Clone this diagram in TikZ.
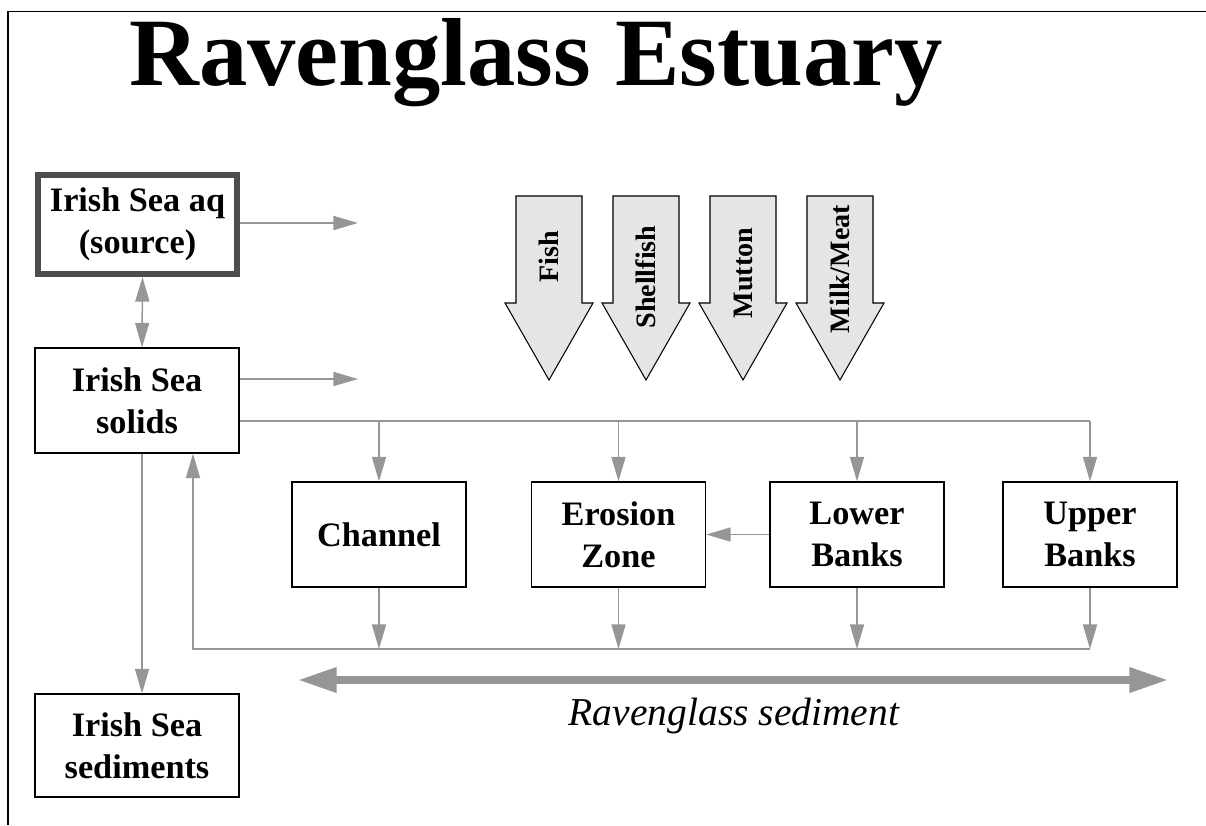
\documentclass[tikz,border=0pt]{standalone}
\usepackage{fontspec}
\setmainfont{Liberation Serif}
\usetikzlibrary{calc,arrows.meta}
\definecolor{flowGray}{RGB}{150,150,150}
\definecolor{foodFill}{RGB}{229,229,229}
\definecolor{sourceEdge}{RGB}{77,77,77}
\tikzset{
  compBox/.style={draw,line width=0.7pt,fill=white,align=center,inner sep=2pt,
    font=\bfseries\fontsize{19.5}{24}\selectfont,minimum width=3.48cm,minimum height=2.1cm},
  seaBox/.style={compBox,minimum width=4.08cm},
  flowLine/.style={draw=flowGray,line width=0.85pt},
  flowArrow/.style={flowLine,-{Triangle[length=14pt,width=8pt]}},
  flowBoth/.style={flowLine,{Triangle[length=14pt,width=8pt]}-{Triangle[length=14pt,width=8pt]}},
  sedArrow/.style={draw=flowGray,line width=4pt,{Triangle[length=22pt,width=13.6pt]}-{Triangle[length=22pt,width=13.6pt]}}
}
\begin{document}
\begin{tikzpicture}[x=0.02cm,y=-0.02cm]
\useasboundingbox (0,0) rectangle (1206,825);
\draw[line width=0.8pt] (8,825) -- (8,11.5) -- (1206,11.5);
\node[anchor=base,font=\bfseries\fontsize{55}{60}\selectfont] (title) at (536,85) {Ravenglass Estuary};
% sea compartments
\node[seaBox,line width=3.4pt,draw=sourceEdge,minimum width=3.98cm,minimum height=1.98cm] (aq) at (137.5,224.5) {Irish Sea aq\\(source)};
\node[seaBox] (solids) at (137,400.5) {Irish Sea\\solids};
\node[seaBox,minimum height=2.06cm] (seds) at (137,745.5) {Irish Sea\\sediments};
% estuary compartments
\node[compBox] (chan) at (379,534.5) {Channel};
\node[compBox] (erosion) at (618.5,534.5) {Erosion\\Zone};
\node[compBox] (lower) at (857,534.5) {Lower\\Banks};
\node[compBox] (upper) at (1090,534.5) {Upper\\Banks};
% food pathways
\foreach \fx/\food/\fy in {549/Fish/257,646/Shellfish/277,743/Mutton/273,840/{Milk/Meat}/269}{
  \draw[fill=foodFill,line width=0.6pt] (\fx-33,196) -- (\fx+33,196) -- (\fx+33,303) -- (\fx+44,303)
    -- (\fx,380) -- (\fx-44,303) -- (\fx-33,303) -- cycle;
  \node[rotate=90,font=\bfseries\fontsize{16}{18}\selectfont] (food\fx) at (\fx,\fy) {\food};
}
\coordinate (aqOut) at (358,223);
\coordinate (solOut) at (358,379);
\coordinate (topBus) at (1090,421);
\coordinate (botBus) at (1090,649);
\coordinate (backUp) at (193,649);
\coordinate (sedLeft) at (298,680);
\coordinate (sedRight) at (1168,680);
\draw[flowArrow] (aq.east |- aqOut) -- (aqOut);
\draw[flowArrow] (solids.east |- solOut) -- (solOut);
\draw[flowBoth] ([xshift=0.1cm]aq.south) -- ([xshift=0.1cm]solids.north);
\draw[flowArrow] ([xshift=0.1cm]solids.south) -- ([xshift=0.1cm]seds.north);
\draw[flowLine] (solids.east |- topBus) -- (topBus);
\foreach \b in {chan,erosion,lower,upper}{
  \draw[flowArrow] (topBus -| \b) -- (\b.north);
  \draw[flowArrow] (\b.south) -- (botBus -| \b);
}
\draw[flowArrow] (botBus) -- (backUp) -- (backUp |- solids.south);
\draw[flowArrow] (lower.west) -- (erosion.east);
\draw[sedArrow] (sedLeft) -- (sedRight);
\node[anchor=base,font=\itshape\fontsize{22.5}{26}\selectfont] (sedLabel) at (734,725) {Ravenglass sediment};
\end{tikzpicture}
\end{document}
